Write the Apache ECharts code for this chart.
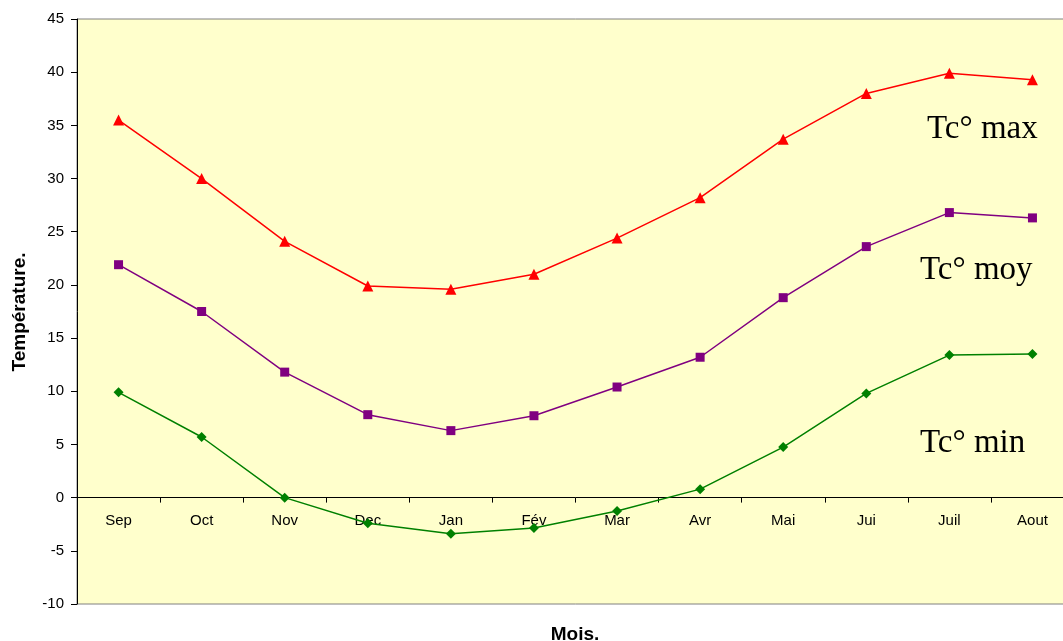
<!DOCTYPE html>
<html>
<head>
<meta charset="utf-8">
<script src="https://cdn.jsdelivr.net/npm/echarts@6/dist/echarts.min.js"></script>
<style>html,body{margin:0;padding:0;background:#fff;overflow:hidden;}#c{width:1080px;height:641px;}</style>
</head>
<body>
<div id="c"></div>
<script>
var months = ['Sep','Oct','Nov','Dec','Jan','Fév','Mar','Avr','Mai','Jui','Juil','Aout'];
var tMax = [35.5, 30.0, 24.1, 19.9, 19.6, 21.0, 24.4, 28.2, 33.7, 38.0, 39.9, 39.3];
var tMoy = [21.9, 17.5, 11.8, 7.8, 6.3, 7.7, 10.4, 13.2, 18.8, 23.6, 26.8, 26.3];
var tMin = [9.9, 5.7, 0.0, -2.4, -3.4, -2.85, -1.25, 0.8, 4.75, 9.8, 13.4, 13.5];
var seriesNames = ['Tc° max', 'Tc° moy', 'Tc° min'];
var yTicks = {min: -10, max: 45, interval: 5};

var chart = echarts.init(document.getElementById('c'), null, {renderer: 'canvas'});
var font = 'Liberation Sans, Arial, sans-serif';
chart.setOption({
  animation: false,
  backgroundColor: '#ffffff',
  grid: {
    left: 77, width: 997, top: 19, height: 585,
    show: true, backgroundColor: '#FFFFCC', borderColor: '#808080', borderWidth: 1,
    containLabel: false
  },
  xAxis: {
    type: 'category',
    data: months,
    boundaryGap: true,
    position: 'bottom',
    offset: -106.4,
    axisLine: {onZero: false, lineStyle: {color: '#000', width: 1}},
    axisTick: {show: true, inside: false, length: 5, lineStyle: {color: '#000'}},
    axisLabel: {color: '#000', fontFamily: font, fontSize: 15, margin: 16},
    splitLine: {show: false}
  },
  yAxis: {
    type: 'value',
    min: yTicks.min, max: yTicks.max, interval: yTicks.interval,
    axisLine: {show: true, lineStyle: {color: '#000', width: 1}},
    axisTick: {show: true, length: 6, lineStyle: {color: '#000'}},
    axisLabel: {color: '#000', fontFamily: font, fontSize: 15, margin: 13},
    splitLine: {show: false}
  },
  series: [
    {name: seriesNames[0], type: 'line', data: tMax, symbol: 'triangle', symbolSize: 11,
     lineStyle: {color: '#FF0000', width: 1.5}, itemStyle: {color: '#FF0000'}},
    {name: seriesNames[1], type: 'line', data: tMoy, symbol: 'rect', symbolSize: 9,
     lineStyle: {color: '#800080', width: 1.5}, itemStyle: {color: '#800080'}},
    {name: seriesNames[2], type: 'line', data: tMin, symbol: 'diamond', symbolSize: 10,
     lineStyle: {color: '#008000', width: 1.5}, itemStyle: {color: '#008000'}}
  ],
  graphic: [
    {type: 'text', left: 927, top: 113, style: {text: seriesNames[0], font: '33px "Liberation Serif", "Times New Roman", serif', fill: '#000'}},
    {type: 'text', left: 920, top: 254, style: {text: seriesNames[1], font: '33px "Liberation Serif", "Times New Roman", serif', fill: '#000'}},
    {type: 'text', left: 920, top: 427, style: {text: seriesNames[2], font: '33px "Liberation Serif", "Times New Roman", serif', fill: '#000'}},
    {type: 'text', x: 20, y: 312, rotation: Math.PI / 2,
     style: {text: 'Température.', font: 'bold 19px ' + font, fill: '#000', align: 'center', verticalAlign: 'middle'}},
    {type: 'text', x: 575, y: 635,
     style: {text: 'Mois.', font: 'bold 19px ' + font, fill: '#000', align: 'center', verticalAlign: 'middle'}}
  ]
});
</script>
</body>
</html>
